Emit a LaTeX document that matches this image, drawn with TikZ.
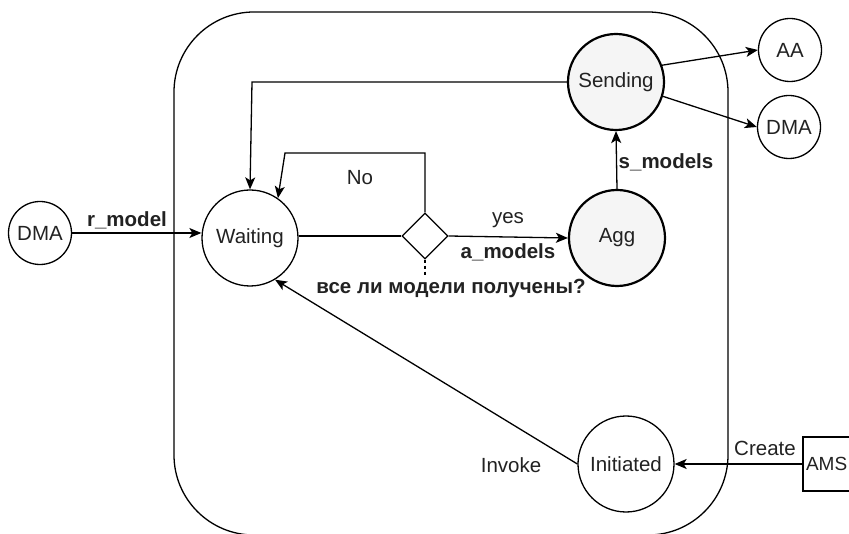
\documentclass[tikz,border=0pt]{standalone}
\usepackage{fontspec}
\setmainfont{Liberation Sans}
\usetikzlibrary{arrows.meta,shapes.geometric}
\definecolor{textc}{HTML}{222222}
\definecolor{fillg}{HTML}{F5F5F5}
\begin{document}
\begin{tikzpicture}[x=1pt,y=-1pt,
  font=\fontsize{20.5}{24}\selectfont,
  line width=1.3pt,
  arr/.style={-{Stealth[length=12pt,width=10pt,inset=3pt]}},
  bigst/.style={circle,draw,line width=1.3pt,inner sep=0pt,minimum size=96pt,text=textc},
  hotst/.style={bigst,line width=2.2pt,fill=fillg},
  smallst/.style={circle,draw,line width=1.3pt,inner sep=0pt,minimum size=63pt,text=textc},
  lbl/.style={text=textc,inner sep=0pt},
  blbl/.style={lbl,font=\fontsize{20.5}{24}\selectfont\bfseries},
  decision/.style={diamond,draw,line width=1.3pt,minimum size=46pt,inner sep=0pt,fill=white}
]
\path[use as bounding box,clip] (0,0) rectangle (849,534);
\fill[white] (0,0) rectangle (849,534);
% container
\draw[line width=1.3pt,rounded corners=80pt] (174,12) rectangle (728,535);
% nodes
\node[smallst] (dmaL) at (40,233) {DMA};
\node[bigst] (wait) at (250,238) {Waiting};
\node[decision] (dec) at (425,236) {};
\node[hotst] (agg) at (617,238) {Agg};
\node[hotst] (send) at (616,82) {Sending};
\node[smallst] (aa) at (790,50) {AA};
\node[smallst] (dmaR) at (789,127) {DMA};
\node[bigst] (init) at (626,464) {Initiated};
\node[draw,line width=1.3pt,minimum width=52pt,minimum height=54pt,inner sep=0pt] (ams) at (829,464) {};
\node[lbl,anchor=west,font=\fontsize{19}{22}\selectfont] (amst) at (ams.west) [xshift=3pt] {AMS};
\coordinate (decq) at (425,276);
\coordinate (noTR) at (425,153);
\coordinate (noTL) at (285,153);
\coordinate (sendL) at (252,82);
% connectors
\draw[arr] (dmaL.east) -- (wait.west |- dmaL.east);
\node[blbl] at (127,220) {r\_model};
\draw (wait.east |- dec.west) -- (dec.west);
\draw[arr] (dec.east) -- (agg.west);
\node[lbl] at (508,220) {yes};
\node[blbl] at (508,252) {a\_models};
\draw[arr] (dec.north) -- (noTR) -- (noTL) -- (wait.55);
\node[lbl] at (360,178) {No};
\draw[dash pattern=on 3pt off 3pt] (dec.south) -- (decq);
\node[blbl] at (451,288) {все ли модели получены?};
\draw[arr] (agg.north) -- (send.south);
\node[blbl] at (666,162) {s\_models};
\draw[arr] (send.west) -- (sendL) -- (wait.north);
\draw[arr] (send.20) -- (aa.west);
\draw[arr] (send.-17) -- (dmaR.west);
\draw[arr] (ams.west) -- (init.east);
\node[lbl] at (765,448) {Create};
\draw[arr] (init.west) -- (wait.-59);
\node[lbl] at (511,465) {Invoke};
\end{tikzpicture}
\end{document}
